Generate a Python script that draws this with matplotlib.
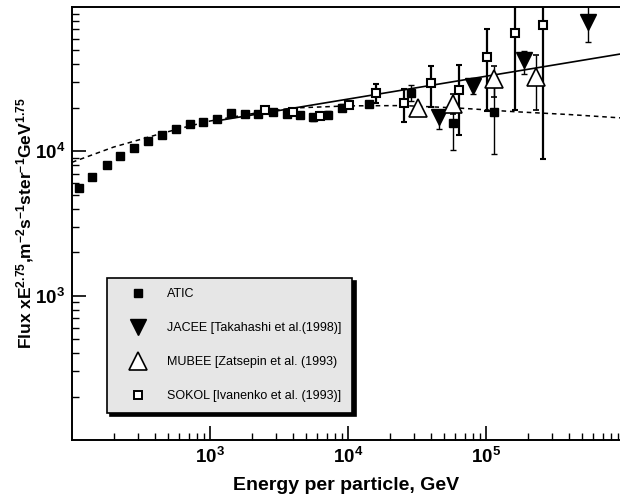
import matplotlib
matplotlib.use("Agg")
import matplotlib.pyplot as plt
from matplotlib.lines import Line2D
from matplotlib.ticker import LogLocator, NullFormatter
import numpy as np

plt.rcParams['font.family'] = ['Liberation Sans', 'DejaVu Sans']
plt.rcParams['mathtext.fontset'] = 'custom'
plt.rcParams['mathtext.rm'] = 'Liberation Sans:bold'
plt.rcParams['mathtext.it'] = 'Liberation Sans:bold'
plt.rcParams['mathtext.bf'] = 'Liberation Sans:bold'
plt.rcParams['mathtext.default'] = 'rm'

# ATIC (filled squares)
atic_E = [112, 140, 178, 224, 281, 354, 449, 564, 716, 894, 1130, 1420, 1790,
          2240, 2880, 3600, 4490, 5610, 7130, 9000, 14200, 28600, 57400, 114800]
atic_F = [5560, 6650, 8010, 9340, 10540, 11720, 13040, 14250, 15430, 16030, 16630,
          18290, 18200, 18200, 18870, 18200, 17910, 17240, 17910, 20020, 21330,
          25400, 15680, 18870]
atic_lo = [5560, 6650, 8010, 9340, 10540, 11720, 13040, 14250, 15430, 16030, 16630,
           18290, 18200, 18200, 18870, 17400, 17100, 16300, 17000, 18900, 20300,
           22480, 10160, 9535]
atic_hi = [5560, 6650, 8010, 9340, 10540, 11720, 13040, 14250, 15430, 16030, 16630,
           18290, 18200, 18200, 18870, 19000, 18700, 18200, 18900, 21200, 22400,
           28800, 21370, 27770]

# JACEE (filled down triangles)
jacee_E = [45870, 80900, 189500, 545800]
jacee_F = [17240, 28520, 42900, 78790]
jacee_lo = [14350, 24990, 34590, 57670]
jacee_hi = [19190, 32470, 49870, 200000]

# MUBEE (open triangles)
mubee_E = [32000, 57400, 114800, 229200]
mubee_F = [19890, 21330, 31780, 32900]
mubee_lo = [19200, 18170, 23690, 19490]
mubee_hi = [20600, 24990, 39200, 46590]

# SOKOL (open squares)
sokol_E = [2500, 4020, 6270, 10100, 15960, 25460, 40150, 64050, 102200, 162300, 257600]
sokol_F = [19490, 18870, 17710, 21030, 25520, 21530, 29780, 26640, 44990, 66500, 75150]
sokol_lo = [19490, 18870, 16900, 19900, 21660, 15920, 20200, 12900, 18880, 19490, 8810]
sokol_hi = [19490, 18870, 18600, 22200, 29290, 27020, 39200, 39770, 70200, 200000, 200000]

# fit lines
solid_E = [1090, 935000]
solid_F = [16200, 47200]
dash_E = [100, 200, 437, 676, 1000, 2290, 3980, 10000, 25100, 63100, 158000, 398000, 935000]
dash_F = [8400, 10700, 13240, 14790, 16220, 18620, 19950, 20650, 20750, 19950, 18840, 17990, 17060]

xtick_vals = [1e3, 1e4, 1e5]
xtick_text = [r'$10^{3}$', r'$10^{4}$', r'$10^{5}$']
ytick_vals = [1e3, 1e4]
ytick_text = [r'$10^{3}$', r'$10^{4}$']


def errs(F, lo, hi):
    F = np.array(F, float)
    return [F - np.array(lo, float), np.array(hi, float) - F]


fig = plt.figure(figsize=(6.2, 4.99), dpi=100)
ax = fig.add_axes([72 / 620, 1 - 440 / 499, 548 / 620, 433 / 499])

ax.plot(solid_E, solid_F, color='black', lw=1.2, zorder=2)
ax.plot(dash_E, dash_F, color='black', lw=1.1, ls=(0, (3, 2.5)), zorder=2)

ax.errorbar(atic_E, atic_F, yerr=errs(atic_F, atic_lo, atic_hi), fmt='s', ms=5.7,
            color='black', mfc='black', mec='black', elinewidth=1.0, capsize=2,
            capthick=1.0, zorder=3)
ax.errorbar(sokol_E, sokol_F, yerr=errs(sokol_F, sokol_lo, sokol_hi), fmt='s', ms=6,
            color='black', mfc='white', mec='black', mew=1.5, elinewidth=1.6,
            capsize=2, capthick=1.4, zorder=4)
ax.errorbar(jacee_E, jacee_F, yerr=errs(jacee_F, jacee_lo, jacee_hi), fmt='v', ms=11,
            color='black', mfc='black', mec='black', elinewidth=1.0, capsize=2,
            capthick=1.0, zorder=4)
ax.errorbar(mubee_E, mubee_F, yerr=errs(mubee_F, mubee_lo, mubee_hi), fmt='^', ms=13,
            color='black', mfc='white', mec='black', mew=1.2, elinewidth=1.0,
            capsize=2, capthick=1.0, zorder=4)

ax.set_xscale('log')
ax.set_yscale('log')
ax.set_xlim(100, 935000)
ax.set_ylim(100, 100000)
ax.set_xticks(xtick_vals)
ax.set_xticklabels(xtick_text)
ax.set_yticks(ytick_vals)
ax.set_yticklabels(ytick_text)
ax.xaxis.set_minor_locator(LogLocator(base=10, subs=np.arange(2, 10)))
ax.yaxis.set_minor_locator(LogLocator(base=10, subs=np.arange(2, 10)))
ax.xaxis.set_minor_formatter(NullFormatter())
ax.yaxis.set_minor_formatter(NullFormatter())

ax.tick_params(which='major', direction='in', length=10, width=1.2, labelsize=13.5, pad=5)
ax.tick_params(which='minor', direction='in', length=5, width=1.0)
ax.tick_params(top=False, right=False, which='both')
ax.spines['right'].set_visible(False)
for s in ['left', 'bottom', 'top']:
    ax.spines[s].set_linewidth(1.4)

ax.set_xlabel('Energy per particle, GeV', fontsize=14, fontweight='bold', labelpad=7)
ax.set_ylabel(r'Flux xE$^{2.75}$,m$^{-2}$s$^{-1}$ster$^{-1}$GeV$^{1.75}$',
              fontsize=12.5, fontweight='bold', labelpad=-1)

handles = [
    Line2D([], [], ls='none', marker='s', ms=5.5, color='black'),
    Line2D([], [], ls='none', marker='v', ms=12, color='black'),
    Line2D([], [], ls='none', marker='^', ms=13, mfc='white', mec='black', mew=1.2),
    Line2D([], [], ls='none', marker='s', ms=6, mfc='white', mec='black', mew=1.4),
]
labels = ['ATIC', 'JACEE [Takahashi et al.(1998)]', 'MUBEE [Zatsepin et al. (1993)',
          'SOKOL [Ivanenko et al. (1993)]']
leg = ax.legend(handles, labels, loc='upper left', bbox_to_anchor=(0.0633, 0.375),
                borderaxespad=0, fontsize=9, labelspacing=1.76, borderpad=0.85,
                handlelength=3.3, handletextpad=0.7, fancybox=False, framealpha=1,
                facecolor='#e6e6e6', edgecolor='black',
                shadow={'ox': 2.5, 'oy': -2.5, 'facecolor': 'black', 'edgecolor': 'black', 'alpha': 1})
leg.get_frame().set_linewidth(1.2)

fig.savefig('out.png', dpi=100)
